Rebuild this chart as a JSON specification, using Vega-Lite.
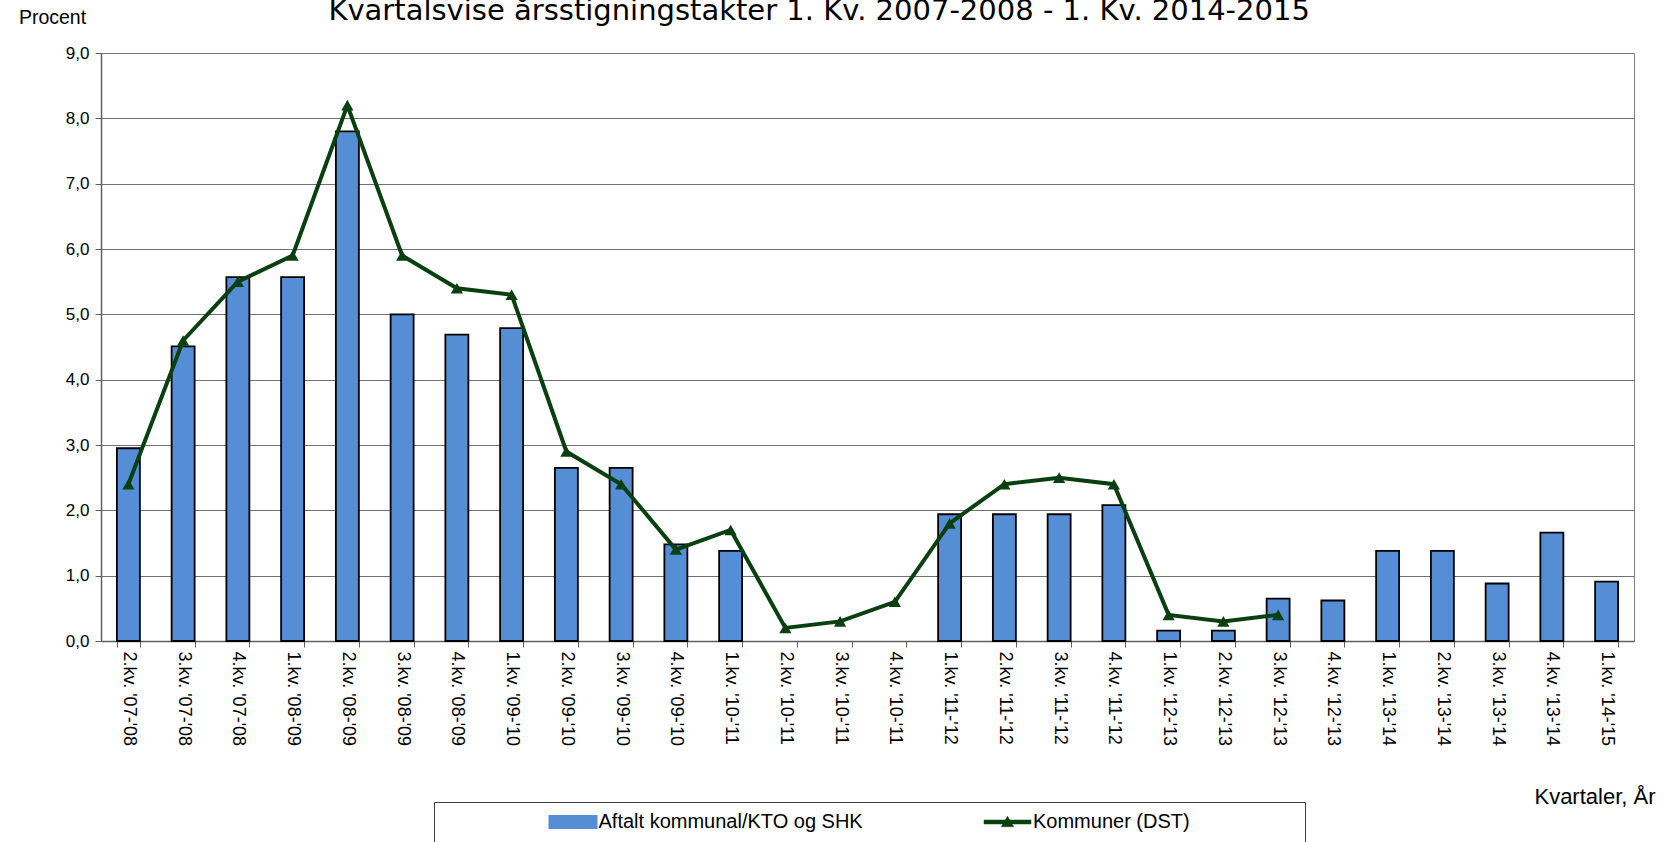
{
  "$schema": "https://vega.github.io/schema/vega-lite/v6.json",
  "autosize": "none",
  "width": 1533,
  "height": 588,
  "padding": {"left": 101, "top": 53, "right": 33, "bottom": 201},
  "background": "white",
  "config": {
    "view": {"stroke": "#808080", "strokeWidth": 1},
    "font": "Liberation Sans"
  },
  "title": {
    "text": "Kvartalsvise årsstigningstakter 1. Kv. 2007-2008 - 1. Kv. 2014-2015",
    "font": "DejaVu Sans",
    "fontSize": 29,
    "fontWeight": "normal",
    "color": "black",
    "anchor": "start",
    "dx": 310,
    "baseline": "alphabetic",
    "offset": -42
  },
  "datasets": {
    "bars": [
      {"q": "2.kv. '07-'08", "serie": "Aftalt kommunal/KTO og SHK", "value": 2.95},
      {"q": "3.kv. '07-'08", "serie": "Aftalt kommunal/KTO og SHK", "value": 4.51},
      {"q": "4.kv. '07-'08", "serie": "Aftalt kommunal/KTO og SHK", "value": 5.57},
      {"q": "1.kv. '08-'09", "serie": "Aftalt kommunal/KTO og SHK", "value": 5.57},
      {"q": "2.kv. '08-'09", "serie": "Aftalt kommunal/KTO og SHK", "value": 7.8},
      {"q": "3.kv. '08-'09", "serie": "Aftalt kommunal/KTO og SHK", "value": 5.0},
      {"q": "4.kv. '08-'09", "serie": "Aftalt kommunal/KTO og SHK", "value": 4.69},
      {"q": "1.kv. '09-'10", "serie": "Aftalt kommunal/KTO og SHK", "value": 4.79},
      {"q": "2.kv. '09-'10", "serie": "Aftalt kommunal/KTO og SHK", "value": 2.65},
      {"q": "3.kv. '09-'10", "serie": "Aftalt kommunal/KTO og SHK", "value": 2.65},
      {"q": "4.kv. '09-'10", "serie": "Aftalt kommunal/KTO og SHK", "value": 1.48},
      {"q": "1.kv. '10-'11", "serie": "Aftalt kommunal/KTO og SHK", "value": 1.38},
      {"q": "1.kv. '11-'12", "serie": "Aftalt kommunal/KTO og SHK", "value": 1.94},
      {"q": "2.kv. '11-'12", "serie": "Aftalt kommunal/KTO og SHK", "value": 1.94},
      {"q": "3.kv. '11-'12", "serie": "Aftalt kommunal/KTO og SHK", "value": 1.94},
      {"q": "4.kv. '11-'12", "serie": "Aftalt kommunal/KTO og SHK", "value": 2.08},
      {"q": "1.kv. '12-'13", "serie": "Aftalt kommunal/KTO og SHK", "value": 0.16},
      {"q": "2.kv. '12-'13", "serie": "Aftalt kommunal/KTO og SHK", "value": 0.16},
      {"q": "3.kv. '12-'13", "serie": "Aftalt kommunal/KTO og SHK", "value": 0.65},
      {"q": "4.kv. '12-'13", "serie": "Aftalt kommunal/KTO og SHK", "value": 0.62},
      {"q": "1.kv. '13-'14", "serie": "Aftalt kommunal/KTO og SHK", "value": 1.38},
      {"q": "2.kv. '13-'14", "serie": "Aftalt kommunal/KTO og SHK", "value": 1.38},
      {"q": "3.kv. '13-'14", "serie": "Aftalt kommunal/KTO og SHK", "value": 0.88},
      {"q": "4.kv. '13-'14", "serie": "Aftalt kommunal/KTO og SHK", "value": 1.66},
      {"q": "1.kv. '14-'15", "serie": "Aftalt kommunal/KTO og SHK", "value": 0.91}
    ],
    "line": [
      {"q": "2.kv. '07-'08", "serie": "Kommuner (DST)", "value": 2.4},
      {"q": "3.kv. '07-'08", "serie": "Kommuner (DST)", "value": 4.6},
      {"q": "4.kv. '07-'08", "serie": "Kommuner (DST)", "value": 5.5},
      {"q": "1.kv. '08-'09", "serie": "Kommuner (DST)", "value": 5.9},
      {"q": "2.kv. '08-'09", "serie": "Kommuner (DST)", "value": 8.2},
      {"q": "3.kv. '08-'09", "serie": "Kommuner (DST)", "value": 5.9},
      {"q": "4.kv. '08-'09", "serie": "Kommuner (DST)", "value": 5.4},
      {"q": "1.kv. '09-'10", "serie": "Kommuner (DST)", "value": 5.3},
      {"q": "2.kv. '09-'10", "serie": "Kommuner (DST)", "value": 2.9},
      {"q": "3.kv. '09-'10", "serie": "Kommuner (DST)", "value": 2.4},
      {"q": "4.kv. '09-'10", "serie": "Kommuner (DST)", "value": 1.4},
      {"q": "1.kv. '10-'11", "serie": "Kommuner (DST)", "value": 1.7},
      {"q": "2.kv. '10-'11", "serie": "Kommuner (DST)", "value": 0.2},
      {"q": "3.kv. '10-'11", "serie": "Kommuner (DST)", "value": 0.3},
      {"q": "4.kv. '10-'11", "serie": "Kommuner (DST)", "value": 0.6},
      {"q": "1.kv. '11-'12", "serie": "Kommuner (DST)", "value": 1.8},
      {"q": "2.kv. '11-'12", "serie": "Kommuner (DST)", "value": 2.4},
      {"q": "3.kv. '11-'12", "serie": "Kommuner (DST)", "value": 2.5},
      {"q": "4.kv. '11-'12", "serie": "Kommuner (DST)", "value": 2.4},
      {"q": "1.kv. '12-'13", "serie": "Kommuner (DST)", "value": 0.4},
      {"q": "2.kv. '12-'13", "serie": "Kommuner (DST)", "value": 0.3},
      {"q": "3.kv. '12-'13", "serie": "Kommuner (DST)", "value": 0.4}
    ]
  },
  "encoding": {
    "x": {
      "field": "q",
      "type": "nominal",
      "scale": {
        "domain": ["2.kv. '07-'08", "3.kv. '07-'08", "4.kv. '07-'08", "1.kv. '08-'09", "2.kv. '08-'09", "3.kv. '08-'09", "4.kv. '08-'09", "1.kv. '09-'10", "2.kv. '09-'10", "3.kv. '09-'10", "4.kv. '09-'10", "1.kv. '10-'11", "2.kv. '10-'11", "3.kv. '10-'11", "4.kv. '10-'11", "1.kv. '11-'12", "2.kv. '11-'12", "3.kv. '11-'12", "4.kv. '11-'12", "1.kv. '12-'13", "2.kv. '12-'13", "3.kv. '12-'13", "4.kv. '12-'13", "1.kv. '13-'14", "2.kv. '13-'14", "3.kv. '13-'14", "4.kv. '13-'14", "1.kv. '14-'15"],
        "paddingInner": 0.58,
        "paddingOuter": 0.29
      },
      "axis": {
        "title": "Kvartaler, År",
        "titleFont": "Liberation Sans",
        "titleFontSize": 22,
        "titleFontWeight": "normal",
        "titleColor": "black",
        "titleAlign": "right",
        "titleAnchor": null,
        "titleX": 1554,
        "titleY": 162,
        "titleBaseline": "alphabetic",
        "labelAngle": 90,
        "labelAlign": "left",
        "labelBaseline": "middle",
        "labelFontSize": 18,
        "labelColor": "black",
        "labelPadding": 4,
        "labelLimit": 300,
        "tickBand": "extent",
        "tickSize": 6,
        "tickColor": "#606060",
        "domainColor": "#606060",
        "domainWidth": 1.5,
        "grid": false
      }
    },
    "y": {
      "field": "value",
      "type": "quantitative",
      "scale": {"domain": [0, 9], "nice": false},
      "axis": {
        "title": "Procent",
        "titleAngle": 0,
        "titleFont": "Liberation Sans",
        "titleFontSize": 19.5,
        "titleFontWeight": "normal",
        "titleColor": "black",
        "titleAlign": "center",
        "titleAnchor": null,
        "titleX": -49,
        "titleY": -30,
        "titleBaseline": "alphabetic",
        "values": [0, 1, 2, 3, 4, 5, 6, 7, 8, 9],
        "labelExpr": "replace(format(datum.value, '.1f'), '.', ',')",
        "labelFontSize": 17,
        "labelColor": "black",
        "labelPadding": 6,
        "tickSize": 6,
        "tickColor": "#606060",
        "domainColor": "#606060",
        "domainWidth": 1.5,
        "grid": true,
        "gridColor": "#707070",
        "gridWidth": 1
      }
    },
    "color": {
      "field": "serie",
      "type": "nominal",
      "scale": {
        "domain": ["Aftalt kommunal/KTO og SHK", "Kommuner (DST)"],
        "range": ["#558ed5", "#0a4010"]
      },
      "legend": {
        "orient": "none",
        "legendX": 333,
        "legendY": 749,
        "direction": "horizontal",
        "title": "\u00a0",
        "titleOrient": "right",
        "titlePadding": 105,
        "titleFontSize": 10,
        "padding": 10,
        "strokeColor": "#404040",
        "fillColor": "white",
        "symbolSize": 400,
        "symbolOffset": 119,
        "symbolStrokeWidth": 2,
        "symbolStrokeColor": "black",
        "labelFont": "Liberation Sans",
        "labelFontSize": 20,
        "labelColor": "black",
        "labelOffset": 15.5,
        "labelLimit": 500,
        "columnPadding": 15.5,
        "encode": {
          "symbols": {
            "update": {
              "shape": {"signal": "datum.value == 'Kommuner (DST)' ? 'M-1,-0.085H1V0.085H-1Z M-0.26,0.2L0,-0.24L0.26,0.2Z' : 'M-1,-0.255H1V0.255H-1Z'"},
              "size": {"value": 2209},
              "fill": {"signal": "datum.value == 'Kommuner (DST)' ? '#0a4010' : '#558ed5'"},
              "stroke": {"signal": "datum.value == 'Kommuner (DST)' ? '#0a4010' : '#000000'"},
              "strokeWidth": {"signal": "datum.value == 'Kommuner (DST)' ? 0.5 : 2"},
              "strokeOpacity": {"value": 1},
              "opacity": {"value": 1},
              "fillOpacity": {"value": 1}
            }
          }
        }
      }
    }
  },
  "layer": [
    {
      "data": {"name": "bars"},
      "mark": {"type": "bar", "stroke": "black", "strokeWidth": 1.8, "fillOpacity": 1},
      "encoding": {}
    },
    {
      "data": {"name": "line"},
      "mark": {"type": "line", "strokeWidth": 4, "point": {"shape": "triangle-up", "filled": true, "size": 150, "fill": "#0a4010", "opacity": 1}},
      "encoding": {}
    }
  ]
}
